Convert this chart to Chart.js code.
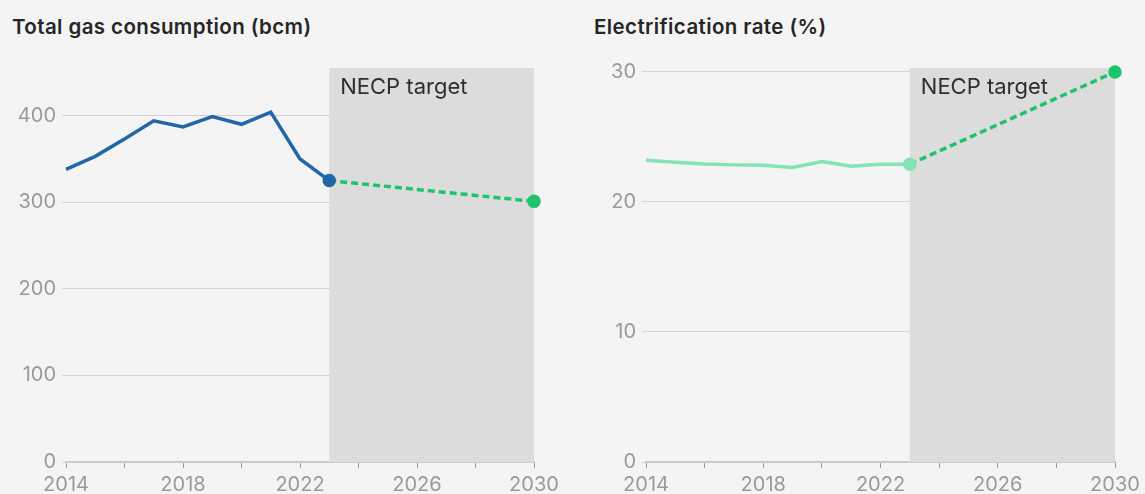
<!DOCTYPE html>
<html>
<head>
<meta charset="utf-8">
<script src="https://cdn.jsdelivr.net/npm/chart.js@4"></script>
<style>
  html, body { margin: 0; padding: 0; background: #f4f4f4; }
  body { width: 1145px; height: 494px; position: relative; overflow: hidden; font-family: Inter, "Noto Sans", sans-serif; }
  .title { position: absolute; top: 14px; font-size: 20.5px; font-weight: 600; color: #262626; letter-spacing: 0.4px; }
  .wrap { position: absolute; top: 0; height: 494px; }
</style>
</head>
<body>
<div class="title" style="left:12px">Total gas consumption (bcm)</div>
<div class="title" style="left:594px">Electrification rate (%)</div>
<div class="wrap" style="left:0;width:564px"><canvas id="gas"></canvas></div>
<div class="wrap" style="left:580px;width:565px"><canvas id="elec"></canvas></div>
<script>
const years = [2014, 2015, 2016, 2017, 2018, 2019, 2020, 2021, 2022, 2023];
const targetYears = [2023, 2030];

const gasValues = [338, 353, 373, 394, 387, 399, 390, 404, 350, 325];
const gasTarget = [325, 301];

const elecValues = [23.2, 23.05, 22.92, 22.85, 22.82, 22.65, 23.1, 22.75, 22.9, 22.9];
const elecTarget = [22.9, 30];

const targetLabel = "NECP target";
const targetStart = 2023;
const targetEnd = 2030;

const pairs = (xs, ys) => xs.map((x, i) => ({ x: x, y: ys[i] }));

// grey box behind the target period
const targetBox = {
  id: 'targetBox',
  beforeDatasetsDraw(chart) {
    const ctx = chart.ctx;
    const x = chart.scales.x;
    const area = chart.chartArea;
    const x0 = x.getPixelForValue(targetStart);
    const x1 = x.getPixelForValue(targetEnd);
    ctx.save();
    ctx.fillStyle = '#dcdcdc';
    ctx.fillRect(x0, area.top, x1 - x0, area.bottom - area.top);
    ctx.fillStyle = '#2e2e2e';
    ctx.font = '22px Inter, "Noto Sans", sans-serif';
    ctx.textBaseline = 'middle';
    ctx.fillText(targetLabel, x0 + 11, area.top + 19);
    ctx.restore();
  }
};

function makeChart(id, hist, target, histColor, yMax, step, padRight) {
  const last = hist.length - 1;
  return new Chart(document.getElementById(id), {
    type: 'line',
    plugins: [targetBox],
    data: {
      datasets: [{
        data: pairs(years, hist),
        borderColor: histColor,
        backgroundColor: histColor,
        borderWidth: 3.5,
        pointRadius: c => c.dataIndex === last ? 5 : 0,
        pointHoverRadius: 0,
        tension: 0,
        clip: false
      }, {
        data: pairs(targetYears, target),
        borderColor: '#1ec46b',
        backgroundColor: '#1ec46b',
        borderWidth: 3.5,
        borderDash: [7, 4],
        pointRadius: c => c.dataIndex === 1 ? 5 : 0,
        pointHoverRadius: 0,
        clip: false
      }]
    },
    options: {
      responsive: true,
      maintainAspectRatio: false,
      animation: false,
      layout: { padding: { top: 68, right: padRight, left: 0, bottom: 0 } },
      plugins: { legend: { display: false }, tooltip: { enabled: false } },
      scales: {
        x: {
          type: 'linear',
          min: 2014,
          max: 2030,
          afterFit: s => { s.height = 32; },
          border: { color: '#cccccc', width: 2 },
          grid: { drawOnChartArea: false, drawTicks: true, tickLength: 6, color: '#999999' },
          ticks: {
            stepSize: 2,
            autoSkip: false,
            maxRotation: 0,
            padding: 5,
            color: '#9a9a9a',
            font: { family: 'Inter, "Noto Sans", sans-serif', size: 20 },
            callback: v => (v % 4 === 2 ? String(v) : '')
          }
        },
        y: {
          min: 0,
          max: yMax,
          afterFit: s => { s.width = 66; },
          border: { display: false },
          grid: { color: '#d2d2d2', lineWidth: 1, tickLength: 4, drawTicks: true },
          ticks: {
            stepSize: step,
            includeBounds: false,
            padding: 6,
            color: '#9a9a9a',
            font: { family: 'Inter, "Noto Sans", sans-serif', size: 20 }
          }
        }
      }
    }
  });
}

makeChart('gas', gasValues, gasTarget, '#2166a6', 455, 100, 30);
makeChart('elec', elecValues, elecTarget, '#84e3b4', 30.3, 10, 30);
</script>
</body>
</html>
